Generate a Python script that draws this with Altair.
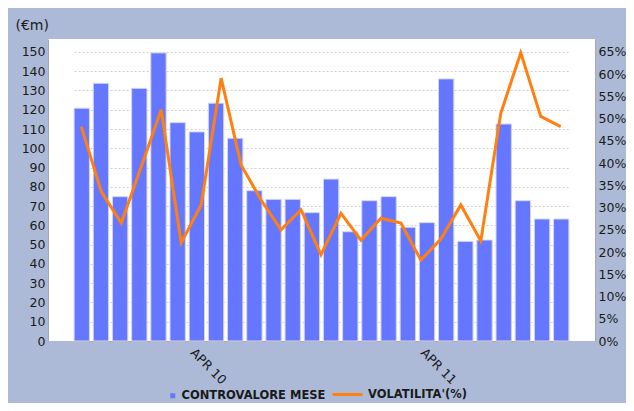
import altair as alt
import pandas as pd

# ---- data ----
months = ["OCT 09", "NOV 09", "DEC 09", "JAN 10", "FEB 10", "MAR 10", "APR 10",
          "MAY 10", "JUN 10", "JUL 10", "AUG 10", "SEP 10", "OCT 10", "NOV 10",
          "DEC 10", "JAN 11", "FEB 11", "MAR 11", "APR 11", "MAY 11", "JUN 11",
          "JUL 11", "AUG 11", "SEP 11", "OCT 11", "NOV 11"]
controvalore = [120.8, 133.7, 74.9, 131.1, 149.5, 113.3, 108.5, 123.4, 105.2, 78.0,
                73.5, 73.5, 66.6, 84.0, 56.7, 72.8, 74.9, 59.0, 61.4, 136.0,
                51.7, 52.4, 112.6, 72.8, 63.3, 63.3]
vol_points = list(range(25))
volatilita = [48.2, 33.6, 26.5, 39.2, 52.0, 22.1, 30.6, 59.1, 39.6, 31.7, 25.0,
              29.5, 19.4, 28.7, 22.7, 27.6, 26.5, 18.2, 22.9, 30.6, 22.5, 51.2,
              64.8, 50.5, 48.2]
left_ticks = list(range(0, 151, 10))
right_ticks = list(range(0, 66, 5))
x_labels = ["APR 10", "APR 11"]
bar_name = "CONTROVALORE MESE"
line_name = "VOLATILITA'(%)"

bars_df = pd.DataFrame({"mese": months, "controvalore": controvalore, "serie": bar_name})
line_df = pd.DataFrame({"punto": vol_points, "volatilita": volatilita, "serie": line_name})

FONT = "DejaVu Sans"
LABEL = "#1a1a1a"
AXISLINE = "#a8a8a8"

bars = alt.Chart(bars_df).mark_bar(stroke="#d2d6f2", strokeWidth=1).encode(
    x=alt.X("mese:N", sort=months,
            scale=alt.Scale(paddingInner=0.2, paddingOuter=0, range=[26.1, 520.9]),
            axis=alt.Axis(title=None, values=x_labels, bandPosition=0, labelAngle=45,
                          labelAlign="left", labelBaseline="top", ticks=False,
                          labelPadding=5, labelFontSize=12.5, labelColor=LABEL,
                          domainColor=AXISLINE, grid=False)),
    y=alt.Y("controvalore:Q", scale=alt.Scale(domain=[0, 156.7], nice=False),
            axis=alt.Axis(title="(€m)", titleAngle=0, titleAlign="left", titleX=-33,
                          titleY=-14, titleBaseline="middle", titleFontSize=14,
                          titleFontWeight="normal", titleColor=LABEL,
                          values=left_ticks, ticks=False, labelPadding=3,
                          labelFontSize=12.5, labelColor=LABEL, domainColor=AXISLINE,
                          grid=True, gridDash=[2, 2], gridColor="#cfcfcf")),
    fill=alt.Fill("serie:N", scale=alt.Scale(range=["#6677ff"]),
                  legend=alt.Legend(orient="none", legendX=119, legendY=351, title=None,
                                    padding=0, symbolType="square", symbolSize=25,
                                    symbolStrokeWidth=0, labelOffset=3,
                                    labelFontSize=11.5, labelFontWeight="bold",
                                    labelColor=LABEL)),
)

line = alt.Chart(line_df).mark_line(strokeWidth=3).encode(
    x=alt.X("punto:Q", scale=alt.Scale(domain=[-1.667, 25.717], nice=False, zero=False),
            axis=None),
    y=alt.Y("volatilita:Q", scale=alt.Scale(domain=[0, 67.9], nice=False),
            axis=alt.Axis(orient="right", title=None, values=right_ticks,
                          labelExpr="datum.value + '%'", ticks=False, labelPadding=3,
                          labelFontSize=12.5, labelColor=LABEL, domainColor=AXISLINE,
                          grid=False)),
    stroke=alt.Stroke("serie:N", scale=alt.Scale(range=["#ff8010"]),
                      legend=alt.Legend(orient="none", legendX=283, legendY=339, title=None,
                                        padding=0, symbolType="stroke", symbolSize=900,
                                        symbolStrokeWidth=3, labelOffset=4,
                                        labelFontSize=11.5, labelFontWeight="bold",
                                        labelColor=LABEL)),
)

chart = alt.layer(bars, line).resolve_scale(
    x="independent", y="independent"
).properties(
    width=547, height=302,
    autosize=alt.AutoSizeParams(type="none"),
    padding={"left": 40, "top": 31, "right": 31, "bottom": 62},
    background="#acbad8",
).configure(font=FONT).configure_view(fill="white", stroke=None)

chart.save("out.html", embed_options={"renderer": "svg", "actions": False})
